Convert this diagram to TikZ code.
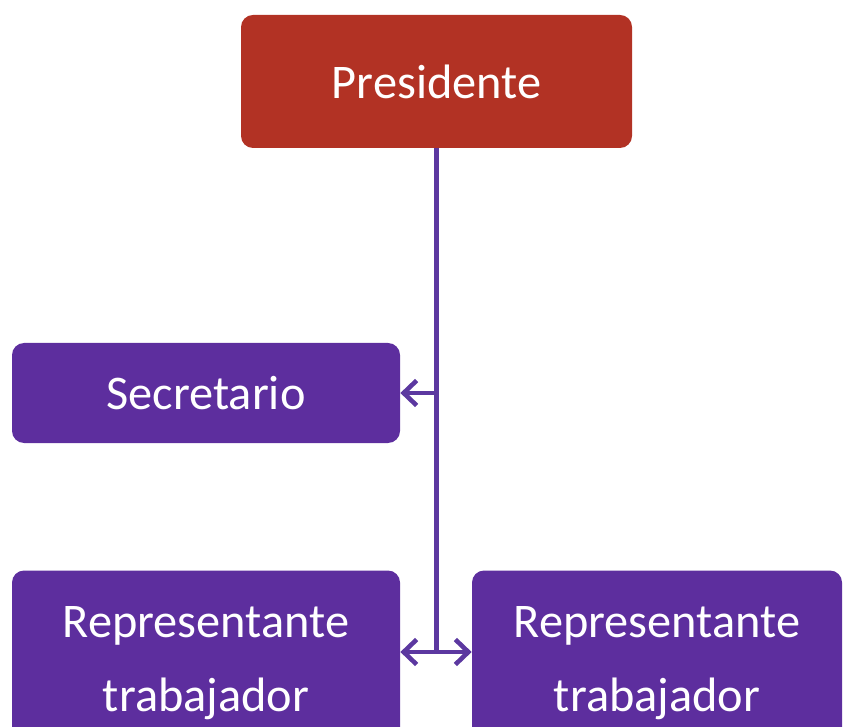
\documentclass[tikz,border=0pt]{standalone}
\usepackage{fontspec}
\setsansfont{Carlito}
\usetikzlibrary{arrows.meta}

\definecolor{presred}{RGB}{178,50,36}
\definecolor{orgpurple}{RGB}{93,46,158}
\definecolor{linepurple}{RGB}{92,56,160}

\tikzset{
  orgbox/.style={rectangle,rounded corners=0.24cm,fill=orgpurple,text=white,
    font=\sffamily\fontsize{27.5}{42}\selectfont,align=center,inner sep=0pt},
  link/.style={draw=linepurple,line width=2.6pt,-{Straight Barb[length=2.6mm,width=5mm,line width=2.6pt]}}
}

\begin{document}
\begin{tikzpicture}

            \useasboundingbox (0,0) rectangle (16.9,14.52);
            \clip (0,0) rectangle (16.9,14.52);

            \node[orgbox,fill=presred,minimum width=7.82cm,minimum height=2.66cm]
            	(presidente) 	at (8.73,12.89) {Presidente};
            \node[orgbox,minimum width=7.76cm,minimum height=2cm]
            	(secretario) 	at (4.12,6.66) {Secretario};
            \node[orgbox,minimum width=7.76cm,minimum height=3.7cm]
            	(repizq) 	at (4.12,1.26) {Representante\\trabajador};
            \node[orgbox,minimum width=7.4cm,minimum height=3.7cm]
            	(repder) 	at (13.14,1.26) {Representante\\trabajador};

            \coordinate (jsec) at (presidente.south |- secretario.east);
            \coordinate (jrep) at (presidente.south |- 0,1.48);

            \begin{scope}[link]
                \draw[-] (presidente.south) -- (jrep);
                \draw (jsec) -- (jsec -| secretario.east);
                \draw (jrep) -- (jrep -| repizq.east);
                \draw (jrep) -- (jrep -| repder.west);
            \end{scope}
        \end{tikzpicture}
\end{document}
